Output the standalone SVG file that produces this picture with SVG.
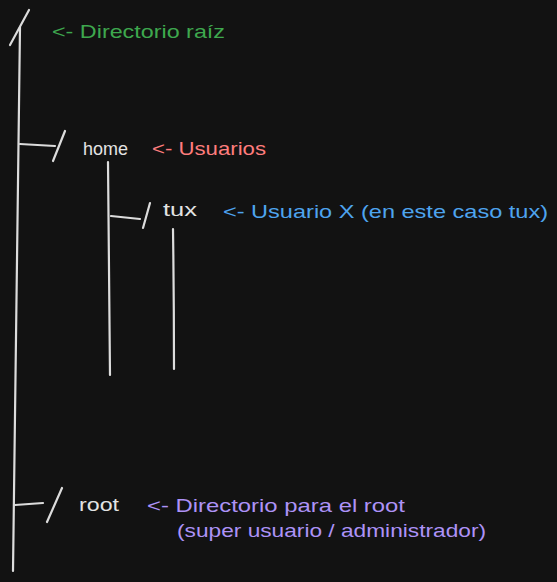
<svg xmlns="http://www.w3.org/2000/svg" width="557" height="582" viewBox="0 0 557 582">
<style>
.ln{stroke:#dcdcdc;stroke-width:2.2;stroke-linecap:round;fill:none}
text{font-family:"Liberation Sans",Arial,sans-serif;font-size:19px}
.w{fill:#e3e3e3}
.g{fill:#3ea84e}
.r{fill:#ff7d7d}
.b{fill:#4ea4ee}
.p{fill:#ad92f7}
</style>
<rect width="557" height="582" fill="#121212"/>
<g id="connectors">
<path class="ln" d="M20 27 Q17 300 13 571"/>
<line class="ln" x1="10" y1="45" x2="29" y2="10"/>
<path class="ln" d="M20 144 L55 146"/>
<line class="ln" x1="53" y1="161" x2="65" y2="131"/>
<path class="ln" d="M108 162 Q109 270 110 375"/>
<path class="ln" d="M111 216 L140 219"/>
<line class="ln" x1="143" y1="228" x2="150" y2="203"/>
<path class="ln" d="M173 229 Q174 300 174 369"/>
<path class="ln" d="M15 505 L43 503"/>
<line class="ln" x1="47" y1="522" x2="62" y2="488"/>
</g>
<g id="root-dir">
<text class="g" x="52" y="38" textLength="173" lengthAdjust="spacingAndGlyphs">&lt;- Directorio raíz</text>
</g>
<g id="home">
<text class="w" x="83" y="155" textLength="45" lengthAdjust="spacingAndGlyphs">home</text>
<text class="r" x="152" y="155" textLength="114" lengthAdjust="spacingAndGlyphs">&lt;- Usuarios</text>
</g>
<g id="tux">
<text class="w" x="163" y="216" textLength="34" lengthAdjust="spacingAndGlyphs">tux</text>
<text class="b" x="223" y="218" textLength="325" lengthAdjust="spacingAndGlyphs">&lt;- Usuario X (en este caso tux)</text>
</g>
<g id="root">
<text class="w" x="79" y="511" textLength="40" lengthAdjust="spacingAndGlyphs">root</text>
<text class="p" x="147" y="512" textLength="258" lengthAdjust="spacingAndGlyphs">&lt;- Directorio para el root</text>
<text class="p" x="177" y="537" textLength="309" lengthAdjust="spacingAndGlyphs">(super usuario / administrador)</text>
</g>
</svg>
